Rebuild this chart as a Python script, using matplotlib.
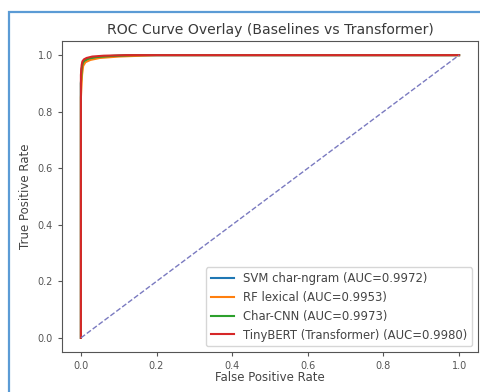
import matplotlib
matplotlib.use("Agg")
import matplotlib.pyplot as plt
from matplotlib.patches import Rectangle

labels = ["SVM char-ngram (AUC=0.9972)", "RF lexical (AUC=0.9953)",
          "Char-CNN (AUC=0.9973)", "TinyBERT (Transformer) (AUC=0.9980)"]
colors = ["tab:blue", "tab:orange", "tab:green", "tab:red"]

svm_fpr = [0, 0, 0.002, 0.005, 0.01, 0.02, 0.04, 0.08, 0.15, 1.0]
svm_tpr = [0, 0.90, 0.95, 0.972, 0.980, 0.987, 0.993, 0.997, 1.0, 1.0]
rf_fpr = [0, 0, 0.003, 0.006, 0.012, 0.025, 0.05, 0.10, 0.20, 1.0]
rf_tpr = [0, 0.85, 0.93, 0.962, 0.975, 0.983, 0.990, 0.995, 1.0, 1.0]
cnn_fpr = [0, 0, 0.002, 0.005, 0.01, 0.02, 0.04, 0.08, 0.14, 1.0]
cnn_tpr = [0, 0.90, 0.952, 0.973, 0.981, 0.988, 0.993, 0.997, 1.0, 1.0]
bert_fpr = [0, 0, 0.002, 0.004, 0.008, 0.015, 0.03, 0.06, 0.12, 1.0]
bert_tpr = [0, 0.93, 0.965, 0.978, 0.985, 0.990, 0.995, 0.998, 1.0, 1.0]

fprs = [svm_fpr, rf_fpr, cnn_fpr, bert_fpr]
tprs = [svm_tpr, rf_tpr, cnn_tpr, bert_tpr]

fig = plt.figure(figsize=(4.8, 3.92), dpi=100)
ax = fig.add_axes([62/480, 40/392, (478-62)/480, (351-40)/392])
for f, t, c, l in zip(fprs, tprs, colors, labels):
    ax.plot(f, t, color=c, lw=1.5, label=l)
ax.plot([0, 1], [0, 1], linestyle="--", color="#7a7ac0", lw=1.0)

ax.set_title("ROC Curve Overlay (Baselines vs Transformer)", fontsize=10.1, color="#3a3a3a", pad=5)
ax.set_xlabel("False Positive Rate", fontsize=8.5, color="#444444", labelpad=0)
ax.set_ylabel("True Positive Rate", fontsize=8.5, color="#444444", labelpad=4)
ax.tick_params(labelsize=7, colors="#555555", length=3)
for s in ax.spines.values():
    s.set_color("#555555")
ax.legend(loc="lower right", fontsize=8.4, frameon=True, handlelength=2.0,
          labelcolor="#444444")

fig.patches.append(Rectangle((9/480, -0.1), 1.2, (392-12)/392 + 0.1,
                             transform=fig.transFigure, fill=False,
                             edgecolor="#5b9bd5", lw=1.6))
fig.savefig("out.png", dpi=100)
